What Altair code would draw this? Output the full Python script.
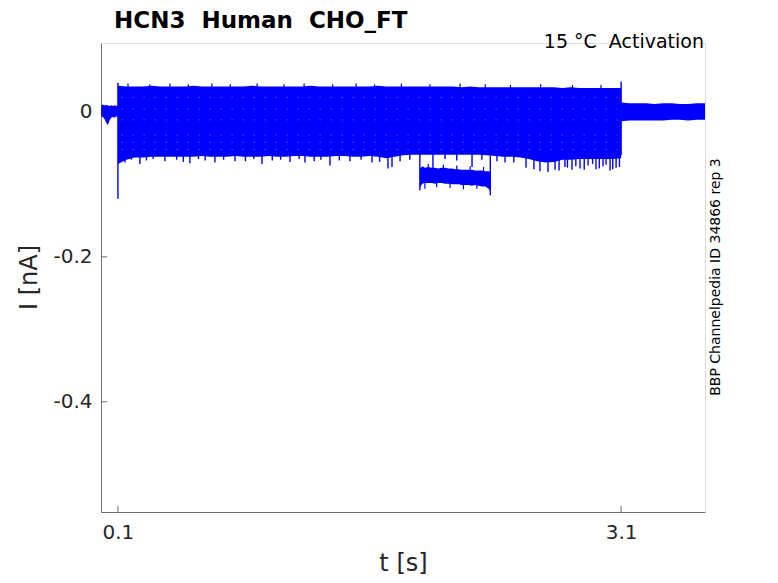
import altair as alt
import pandas as pd

BLUE = "#0000ff"
AXC = "#6f6f6f"
TXT = "#262626"
FONT = "DejaVu Sans"
NB = "\u00a0"

X_DOM = [-0.001, 3.6]
Y_DOM = [-0.552, 0.095]

x_ticks = [0.1, 3.1]
y_ticks = [0, -0.2, -0.4]

title_text = "HCN3" + NB + NB + "Human" + NB + NB + "CHO_FT"
cond_text = "15 °C" + NB + NB + "Activation"
side_text = "BBP Channelpedia ID 34866 rep 3"

# holding level before the step
pre_t = [0.000, 0.010, 0.020, 0.030, 0.040, 0.050, 0.060, 0.070, 0.080, 0.090, 0.100]
pre_hi = [0.008, 0.010, 0.009, 0.009, 0.009, 0.008, 0.009, 0.008, 0.009, 0.008, 0.009]
pre_lo = [-0.006, -0.007, -0.010, -0.015, -0.018, -0.012, -0.008, -0.007, -0.008, -0.006, -0.007]

# envelope of all sweeps during the step
step_t = [0.10, 0.15, 0.20, 0.25, 0.30, 0.35, 0.40, 0.45, 0.50, 0.55,
          0.60, 0.65, 0.70, 0.75, 0.80, 0.85, 0.90, 0.95, 1.00, 1.05,
          1.10, 1.15, 1.20, 1.25, 1.30, 1.35, 1.40, 1.45, 1.50, 1.55,
          1.60, 1.65, 1.70, 1.75, 1.80, 1.85, 1.90, 1.95, 2.00, 2.05,
          2.10, 2.15, 2.20, 2.25, 2.30, 2.35, 2.40, 2.45, 2.50, 2.55,
          2.60, 2.65, 2.70, 2.75, 2.80, 2.85, 2.90, 2.95, 3.00, 3.05, 3.10]
step_hi = [0.036, 0.035, 0.035, 0.035, 0.036, 0.035, 0.035, 0.035, 0.035, 0.036,
           0.035, 0.035, 0.035, 0.035, 0.035, 0.035, 0.036, 0.035, 0.035, 0.035,
           0.035, 0.035, 0.035, 0.036, 0.035, 0.035, 0.035, 0.035, 0.035, 0.035,
           0.035, 0.036, 0.035, 0.035, 0.035, 0.035, 0.035, 0.035, 0.035, 0.035,
           0.035, 0.034, 0.035, 0.034, 0.034, 0.034, 0.034, 0.034, 0.034, 0.034,
           0.034, 0.034, 0.034, 0.033, 0.034, 0.033, 0.033, 0.033, 0.033, 0.033, 0.033]
step_lo = [-0.072, -0.066, -0.063, -0.063, -0.062, -0.062, -0.062, -0.062, -0.062, -0.062,
           -0.061, -0.062, -0.062, -0.062, -0.061, -0.062, -0.062, -0.062, -0.061, -0.062,
           -0.062, -0.061, -0.061, -0.062, -0.062, -0.062, -0.061, -0.061, -0.062, -0.062,
           -0.061, -0.062, -0.064, -0.062, -0.060, -0.059, -0.059, -0.059, -0.059, -0.059,
           -0.059, -0.059, -0.059, -0.059, -0.060, -0.061, -0.062, -0.062, -0.063, -0.065,
           -0.068, -0.070, -0.069, -0.066, -0.066, -0.065, -0.065, -0.065, -0.065, -0.065, -0.064]

# holding level after the step
post_t = [3.10, 3.15, 3.20, 3.25, 3.30, 3.35, 3.40, 3.45, 3.50, 3.55, 3.60]
post_hi = [0.013, 0.012, 0.012, 0.012, 0.011, 0.012, 0.012, 0.011, 0.011, 0.012, 0.012]
post_lo = [-0.013, -0.012, -0.012, -0.012, -0.012, -0.012, -0.011, -0.011, -0.012, -0.011, -0.011]

# one sweep that drops to a lower level
low_t = [1.900, 1.915, 1.930, 1.950, 1.970, 1.990, 2.010, 2.030, 2.050, 2.070, 2.090,
         2.110, 2.130, 2.150, 2.170, 2.190, 2.210, 2.230, 2.250, 2.270, 2.290, 2.310, 2.320]
low_hi = [-0.078, -0.075, -0.077, -0.076, -0.077, -0.077, -0.078, -0.077, -0.077, -0.078, -0.078,
          -0.079, -0.079, -0.080, -0.080, -0.080, -0.080, -0.081, -0.081, -0.081, -0.082, -0.082, -0.083]
low_lo = [-0.104, -0.099, -0.098, -0.098, -0.098, -0.099, -0.098, -0.098, -0.099, -0.099, -0.100,
          -0.100, -0.100, -0.101, -0.101, -0.101, -0.102, -0.101, -0.102, -0.103, -0.103, -0.106, -0.110]

# vertical excursions below the main band (spikes, jumps, onset transient)
spike_t = [0.142, 0.231, 0.380, 0.529, 0.678, 0.798, 0.959, 1.126, 1.215, 1.364,
           1.483, 1.615, 1.710, 1.734, 1.782, 1.978, 2.211, 2.408, 2.533, 2.616,
           2.664, 2.706, 2.765, 2.807, 2.855, 2.903, 2.950, 2.992, 3.034, 3.070,
           0.18, 0.27, 0.31, 0.45, 0.49, 0.58, 0.62, 0.73, 0.86, 0.91,
           1.02, 1.07, 1.18, 1.27, 1.31, 1.42, 1.55, 1.66, 1.84, 2.05,
           2.12, 2.27, 2.36, 2.46, 2.58, 2.73, 2.78, 2.83, 2.88, 2.93,
           2.97, 3.01, 3.05, 3.09,
           1.900, 2.320, 0.100, 3.100]
spike_top = [-0.058] * 64 + [-0.058, -0.060, 0.040, 0.042]
spike_bot = [-0.070, -0.072, -0.068, -0.071, -0.070, -0.068, -0.072, -0.069, -0.070, -0.074,
             -0.068, -0.070, -0.078, -0.076, -0.068, -0.084, -0.076, -0.070, -0.077, -0.082,
             -0.083, -0.080, -0.076, -0.080, -0.078, -0.074, -0.079, -0.075, -0.081, -0.077,
             -0.066, -0.067, -0.065, -0.066, -0.069, -0.065, -0.067, -0.066, -0.068, -0.065,
             -0.067, -0.066, -0.065, -0.068, -0.066, -0.067, -0.066, -0.069, -0.066, -0.065,
             -0.067, -0.066, -0.068, -0.070, -0.079, -0.081, -0.077, -0.075, -0.080, -0.072,
             -0.078, -0.073, -0.079, -0.076,
             -0.108, -0.115, -0.120, -0.060]

# spikes on the low sweep
low_sp_t = [1.93, 1.95, 2.00, 2.04, 2.08, 2.12, 2.16, 2.20, 2.24, 2.28]
low_sp_top = [-0.090, -0.072, -0.090, -0.073, -0.092, -0.074, -0.093, -0.075, -0.094, -0.076]
low_sp_bot = [-0.106, -0.085, -0.104, -0.086, -0.105, -0.088, -0.107, -0.089, -0.106, -0.090]

# small excursions above the main band
up_t = [0.16, 0.29, 0.41, 0.52, 0.66, 0.77, 0.93, 1.09, 1.21, 1.38,
        1.52, 1.63, 1.79, 1.96, 2.14, 2.29, 2.44, 2.62, 2.81, 2.98]
up_top = [0.039, 0.038, 0.039, 0.038, 0.039, 0.038, 0.039, 0.038, 0.039, 0.038,
          0.039, 0.038, 0.039, 0.038, 0.039, 0.038, 0.037, 0.038, 0.037, 0.037]

# faint gaps between sweeps
gap_levels = [0.020, 0.004, -0.011, -0.032, -0.042, -0.052]
gap_start = [0.12, 0.12, 0.12, 0.12, 0.12, 0.12]
gap_end = [3.08, 3.08, 3.08, 3.08, 3.08, 3.08]

xs = alt.Scale(domain=X_DOM, nice=False, zero=False)
ys = alt.Scale(domain=Y_DOM, nice=False, zero=False)

x_axis = alt.Axis(values=x_ticks, labelExpr="toString(datum.value)", tickSize=0, grid=False,
                  domainColor=AXC, labelColor=TXT, labelFont=FONT, labelFontSize=20,
                  labelPadding=10, labelFlush=False, title="t [s]", titleFont=FONT, titleFontSize=24,
                  titleFontWeight="normal", titleColor=TXT, titleX=302, titleY=58,
                  titleBaseline="alphabetic", titleAlign="center")
y_axis = alt.Axis(values=y_ticks, labelExpr="toString(datum.value)", tickSize=0, grid=False,
                  domainColor=AXC, labelColor=TXT, labelFont=FONT, labelFontSize=20,
                  labelPadding=9, title="I [nA]", titleFont=FONT, titleFontSize=24,
                  titleFontWeight="normal", titleColor=TXT, titleX=-72, titleY=234,
                  titleBaseline="middle", titleAlign="center", titleAngle=270)


def X(f):
    return alt.X(f, type="quantitative", scale=xs, axis=x_axis)


def Y(f):
    return alt.Y(f, type="quantitative", scale=ys, axis=y_axis)


def band(t, hi, lo):
    df = pd.DataFrame({"t": t, "hi": hi, "lo": lo})
    return alt.Chart(df).mark_area(color=BLUE, opacity=1, strokeWidth=0).encode(
        x=X("t"), y=Y("hi"), y2="lo")


def rules(t, a, b, w):
    df = pd.DataFrame({"t": t, "a": a, "b": b})
    return alt.Chart(df).mark_rule(color=BLUE, strokeWidth=w).encode(x=X("t"), y=Y("a"), y2="b")


xt_df = pd.DataFrame({"t": x_ticks, "a": [Y_DOM[0]] * 2, "b": [Y_DOM[0] + 0.0085] * 2})
x_tick_layer = alt.Chart(xt_df).mark_rule(color=AXC, strokeWidth=1).encode(x=X("t"), y=Y("a"), y2="b")
yt_df = pd.DataFrame({"v": y_ticks, "a": [X_DOM[0]] * 3, "b": [X_DOM[0] + 0.037] * 3})
y_tick_layer = alt.Chart(yt_df).mark_rule(color=AXC, strokeWidth=1).encode(x=X("a"), x2="b", y=Y("v"))

spikes = rules(spike_t, spike_top, spike_bot, 1.4)
low_spikes = rules(low_sp_t, low_sp_top, low_sp_bot, 1.2)
ups = rules(up_t, [0.032] * len(up_t), up_top, 1.2)

gap_df = pd.DataFrame({"v": gap_levels, "a": gap_start, "b": gap_end})
gaps = alt.Chart(gap_df).mark_rule(color="white", strokeWidth=1, opacity=0.25,
                                   strokeDash=[2, 9]).encode(x=X("a"), x2="b", y=Y("v"))


def txt(s, x, y, **kw):
    return alt.Chart(pd.DataFrame({"s": [s]})).mark_text(font=FONT, color="black", **kw).encode(
        text="s:N", x=alt.value(x), y=alt.value(y))


title_layer = txt(title_text, 13, -15, fontSize=23, fontWeight="bold", align="left", baseline="alphabetic")
cond_layer = txt(cond_text, 603, 5, fontSize=19, align="right", baseline="alphabetic")
side_layer = txt(side_text, 615, 234, fontSize=14, align="center", baseline="middle", angle=270)

chart = alt.layer(
    x_tick_layer, y_tick_layer,
    band(pre_t, pre_hi, pre_lo),
    band(step_t, step_hi, step_lo),
    band(post_t, post_hi, post_lo),
    band(low_t, low_hi, low_lo),
    spikes, low_spikes, ups, gaps,
    title_layer, cond_layer, side_layer,
).properties(
    width=604, height=469,
    autosize=alt.AutoSizeParams(type="none"),
    padding={"left": 93, "top": 35, "right": 65, "bottom": 63},
).configure_view(stroke=None).configure(background="white")

chart.save("out.html", embed_options={"renderer": "svg", "actions": False})
